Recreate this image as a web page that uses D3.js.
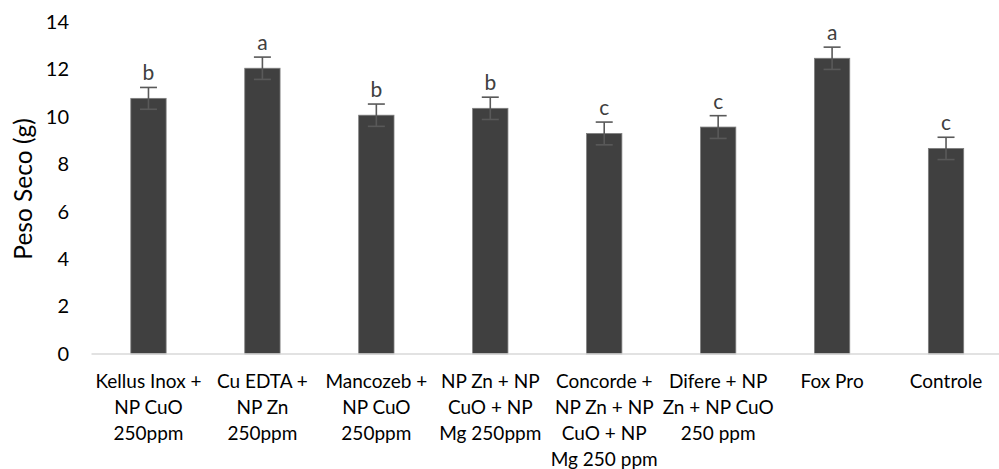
<!DOCTYPE html>
<html>
<head>
<meta charset="utf-8">
<script src="https://cdn.jsdelivr.net/npm/d3@7"></script>
<style>
body { margin: 0; background: #fff; }
svg text { font-family: Lato, "Open Sans", sans-serif; }
.axis text { fill: #000; }
</style>
</head>
<body>
<svg width="999" height="469"></svg>
<script>

// category labels, one string per line
var categories = [
  ["Kellus Inox +", "NP CuO", "250ppm"],
  ["Cu EDTA +", "NP Zn", "250ppm"],
  ["Mancozeb +", "NP CuO", "250ppm"],
  ["NP Zn + NP", "CuO + NP", "Mg 250ppm"],
  ["Concorde +", "NP Zn + NP", "CuO + NP", "Mg 250 ppm"],
  ["Difere + NP", "Zn + NP CuO", "250 ppm"],
  ["Fox Pro"],
  ["Controle"]
];
var values = [10.78, 12.05, 10.07, 10.36, 9.3, 9.57, 12.47, 8.67];
var errors = [0.46, 0.47, 0.47, 0.47, 0.48, 0.48, 0.47, 0.47];
var letters = ["b", "a", "b", "b", "c", "c", "a", "c"];
var yTicks = [0, 2, 4, 6, 8, 10, 12, 14];

var svg = d3.select("svg");
var x0 = 91.5, x1 = 1003, yBottom = 354, yTop = 22;

var x = d3.scaleBand()
    .domain(d3.range(categories.length))
    .range([x0, x1])
    .paddingInner(0.69)
    .paddingOuter(0.345);

var y = d3.scaleLinear().domain([0, 14]).range([yBottom, yTop]);

// y axis labels only (no line)
var yAxis = d3.axisLeft(y).tickValues(yTicks).tickSize(0).tickPadding(0);
var gy = svg.append("g")
    .attr("class", "axis")
    .attr("transform", "translate(69,0)")
    .call(yAxis);
gy.select(".domain").remove();
gy.selectAll("text").style("font-size", "20px").attr("fill", "#000");

// bars
svg.selectAll(".bar")
    .data(values)
  .enter().append("rect")
    .attr("class", "bar")
    .attr("x", function(d, i) { return x(i); })
    .attr("width", x.bandwidth())
    .attr("y", function(d) { return y(d); })
    .attr("height", function(d) { return y(0) - y(d); })
    .attr("fill", "#404040")
    .attr("stroke", "#7f7f7f")
    .attr("stroke-width", 0.8);

// baseline
svg.append("line")
    .attr("x1", x0).attr("x2", 999)
    .attr("y1", y(0)).attr("y2", y(0))
    .attr("stroke", "#d9d9d9")
    .attr("stroke-width", 1.5);

// error bars
var eb = svg.selectAll(".err")
    .data(values)
  .enter().append("g")
    .attr("class", "err")
    .attr("stroke", "#595959")
    .attr("stroke-width", 1.6);
eb.append("line")
    .attr("x1", function(d, i) { return x(i) + x.bandwidth() / 2; })
    .attr("x2", function(d, i) { return x(i) + x.bandwidth() / 2; })
    .attr("y1", function(d, i) { return y(d + errors[i]); })
    .attr("y2", function(d, i) { return y(d - errors[i]); });
eb.selectAll(".cap")
    .data(function(d, i) { return [[i, d + errors[i]], [i, d - errors[i]]]; })
  .enter().append("line")
    .attr("x1", function(d) { return x(d[0]) + x.bandwidth() / 2 - 8.5; })
    .attr("x2", function(d) { return x(d[0]) + x.bandwidth() / 2 + 8.5; })
    .attr("y1", function(d) { return y(d[1]); })
    .attr("y2", function(d) { return y(d[1]); });

// significance letters
svg.selectAll(".letter")
    .data(values)
  .enter().append("text")
    .attr("class", "letter")
    .attr("x", function(d, i) { return x(i) + x.bandwidth() / 2; })
    .attr("y", function(d, i) { return y(d + errors[i]) - 7; })
    .attr("text-anchor", "middle")
    .attr("fill", "#404040")
    .style("font-size", "21px")
    .text(function(d, i) { return letters[i]; });

// category labels
var cl = svg.selectAll(".cat")
    .data(categories)
  .enter().append("text")
    .attr("class", "cat")
    .attr("text-anchor", "middle")
    .attr("fill", "#000")
    .style("font-size", "19px")
    .attr("transform", function(d, i) { return "translate(" + (x(i) + x.bandwidth() / 2) + ",388)"; });
cl.selectAll("tspan")
    .data(function(d) { return d; })
  .enter().append("tspan")
    .attr("x", 0)
    .attr("y", function(d, j) { return j * 26; })
    .text(function(d) { return d; });

// y title
svg.append("text")
    .attr("transform", "translate(32,189) rotate(-90)")
    .attr("text-anchor", "middle")
    .attr("fill", "#000")
    .style("font-size", "24.5px")
    .text("Peso Seco (g)");

</script>
</body>
</html>
